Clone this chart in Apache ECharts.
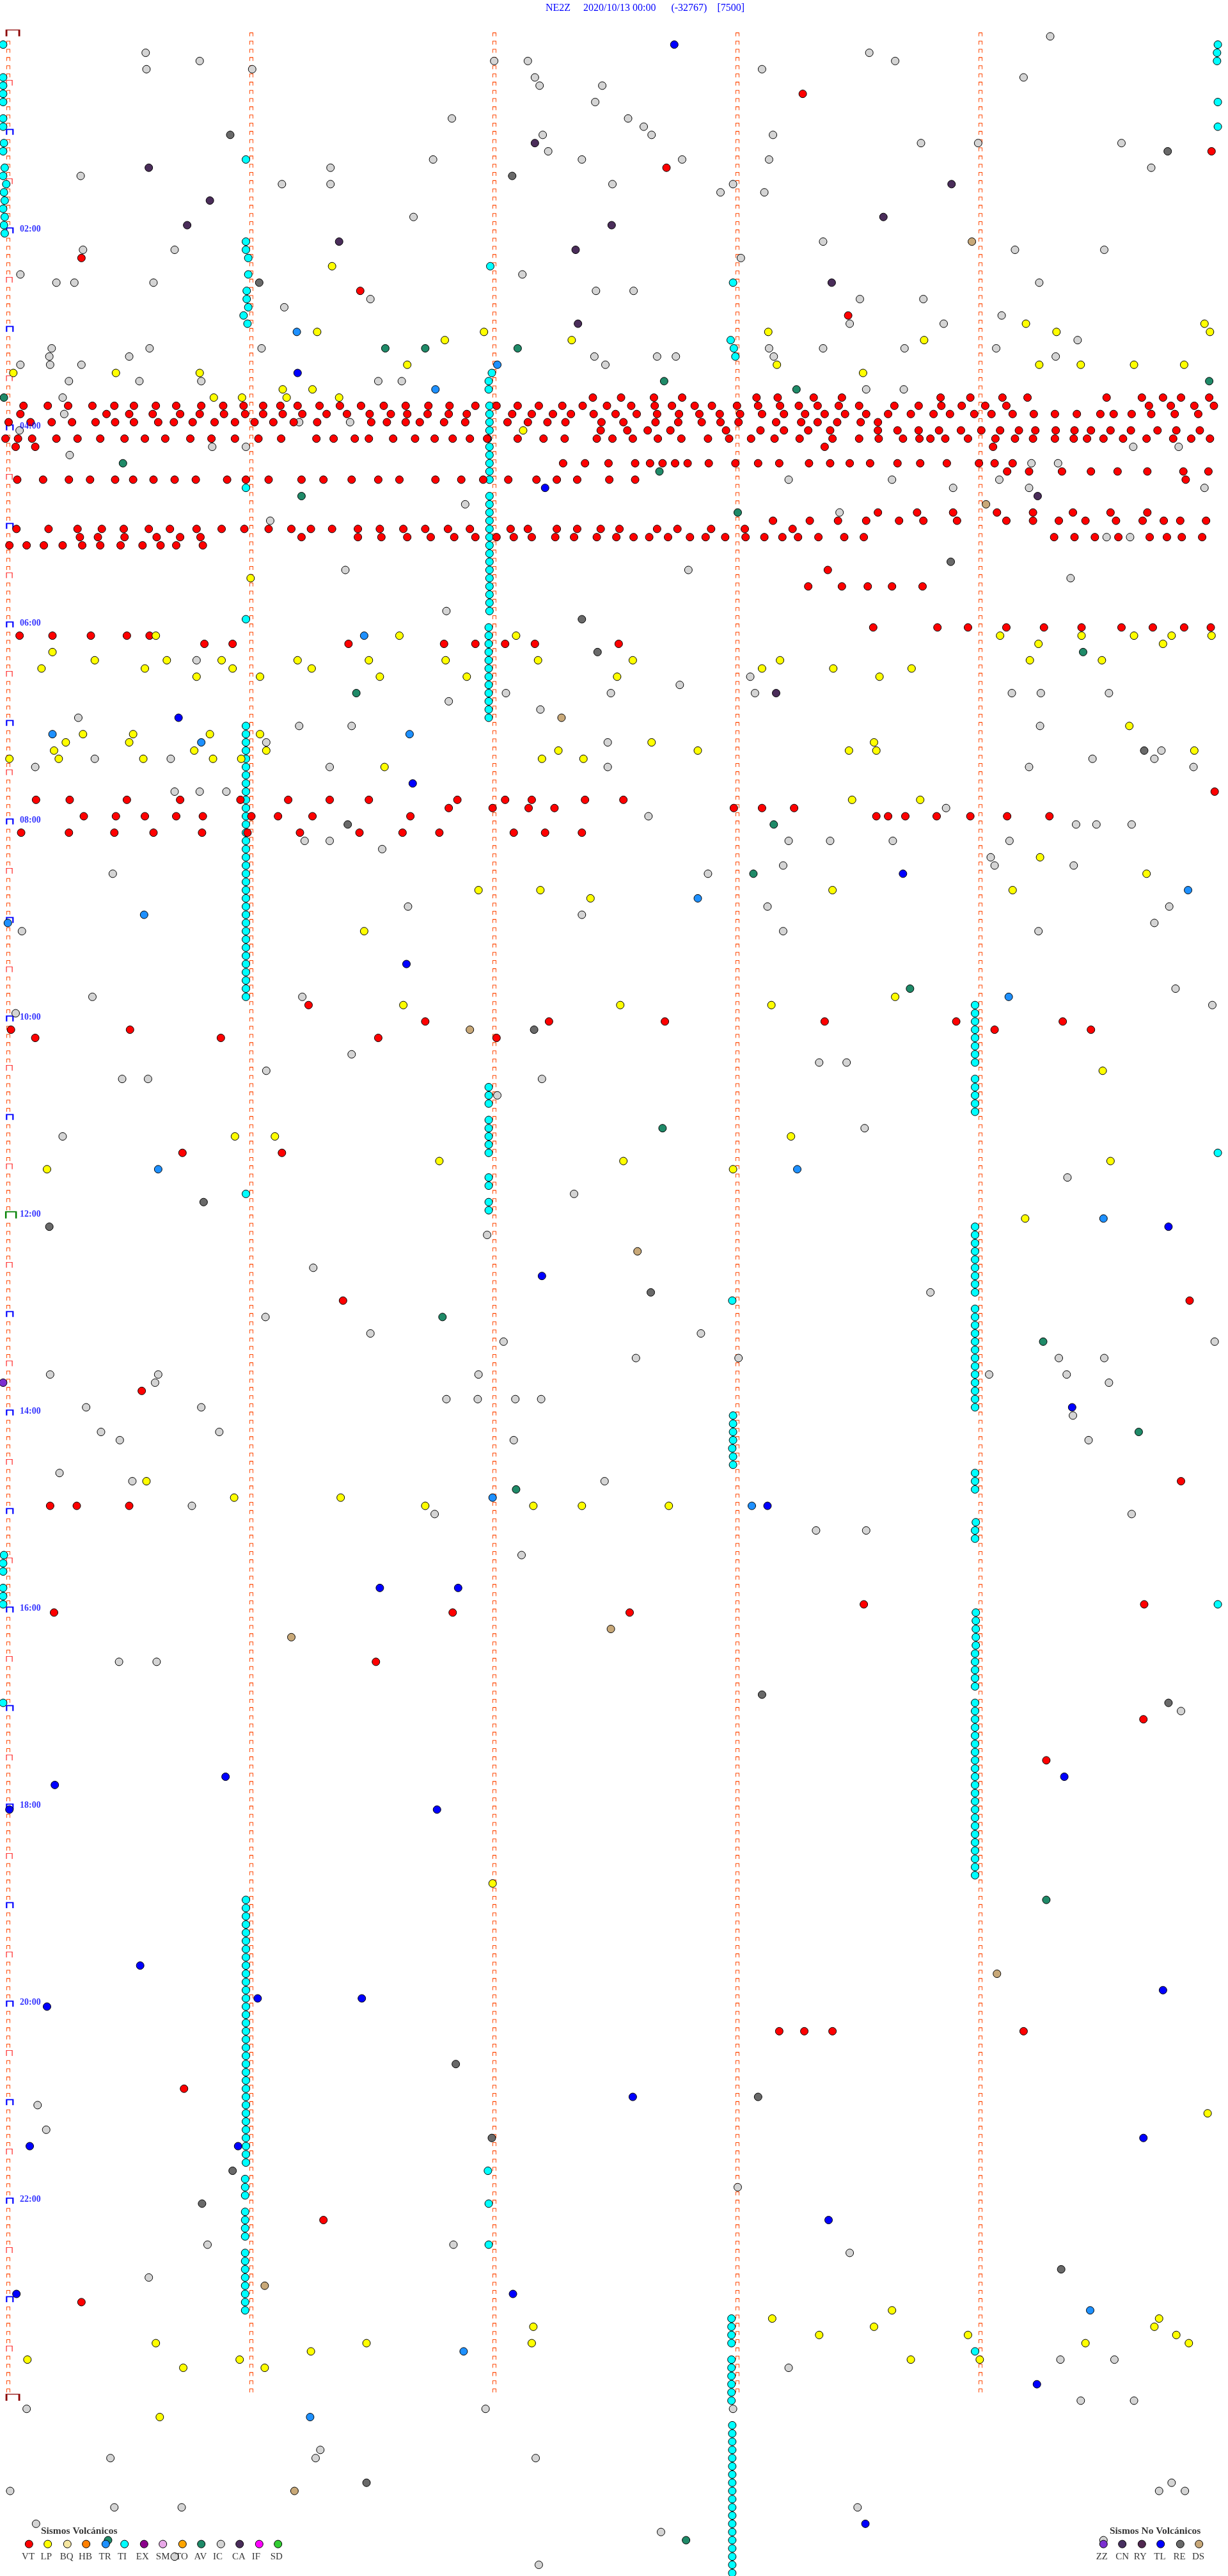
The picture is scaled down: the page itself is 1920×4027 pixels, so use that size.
<!DOCTYPE html>
<html><head><meta charset="utf-8">
<script src="https://cdn.jsdelivr.net/npm/echarts@6/dist/echarts.min.js"></script>
<style>html,body{margin:0;padding:0;background:#fff}#c{width:1920px;height:4027px}</style></head>
<body><div id="c"></div>
<script>
// Each line: [row, x, x, ...]  row = 5-minute trace line, x = position along the line
const VT=[[7,1025],[14,1547],[16,851],[27,104],[31,460],[34,1083],
[44,757,793,835,871,966,993,1039,1075,1201,1239,1280,1312,1413,1458,1485,1508,1544],
[45,30,61,87,118,146,171,199,225,257,285,311,336,358,380,408,434,461,490,518,547,574,607,634,661,688,718,744,775,806,836,858,887,909,941,968,996,1020,1044,1071,1097,1142,1173,1202,1228,1258,1285,1467,1495,1525,1550],
[46,26,136,165,195,230,255,286,313,336,361,386,417,443,472,499,520,546,573,596,654,679,706,729,758,786,813,839,867,893,919,945,973,1001,1028,1053,1079,1106,1134,1163,1192,1213,1244,1266,1293,1320,1347,1375,1405,1422,1445,1470,1500,1530],
[47,11,39,66,92,122,147,171,202,222,246,274,300,325,349,375,405,474,494,518,536,567,594,648,674,699,722,768,796,837,866,896,920,943,991,1023,1044,1069,1099,1121],
[48,767,801,827,856,927,971,1001,1032,1060,1121,1146,1173,1199,1227,1253,1277,1301,1322,1348,1372,1393,1418,1444,1478,1502,1532],
[49,7,23,41,72,99,128,159,185,211,243,270,300,330,359,404,426,453,471,502,530,555,578,600,622,661,694,721,762,782,808,840,870,904,931,959,989,1021,1063,1097,1122,1153,1174,1188,1207,1236,1271,1296,1319,1347,1371,1388,1409,1434,1464,1498,1521,1545],
[50,20,45,1053,1268],
[52,719,747,777,811,830,846,862,878,905,939,968,995,1033,1060,1085,1111,1146,1175,1209,1250,1270,1293],
[53,1286,1314,1356,1393,1427,1465,1511,1543],
[54,22,55,88,115,147,170,196,223,250,290,314,343,385,413,449,483,510,556,589,617,649,685,711,737,778,811,1514],
[58,1121,1171,1217,1273,1319,1370,1418,1465],
[59,987,1034,1070,1106,1148,1179,1222,1285,1319,1352,1386,1425,1459,1486,1507,1540],
[60,21,62,99,130,158,190,217,251,283,312,343,372,397,424,457,485,515,543,572,600,652,674,711,737,767,791,839,865,908,951,1012],
[61,102,125,159,200,230,256,385,457,487,520,550,580,607,634,656,679,709,733,762,787,809,829,853,881,901,926,952,976,999,1019,1045,1078,1103,1346,1372,1398,1428,1468,1490,1509,1535],
[62,12,34,56,80,105,128,154,182,205,225,259],
[65,1057],[67,1032,1075,1108,1139,1178],
[72,1115,1197,1236,1285,1333,1381,1432,1472,1512,1546],
[73,25,67,116,162,191],[74,261,297,445,567,607,645,683,790],
[92,1551],
[93,46,89,162,230,307,368,421,471,584,645,679,747,796],
[94,573,629,675,708,937,973,1014],
[95,107,148,185,225,259,321,355,399,524,1119,1134,1156,1196,1239,1286,1340],
[97,27,88,146,196,258,316,383,459,514,561,656,696,743],
[118,394],[120,543,701,849,1053,1221,1357],[121,14,166,1270,1393],[122,45,282,483,634],
[136,233,360],[154,438,1519],[165,181],[176,1508],[179,64,98,165],[191,1103,1461],[192,69,578,804],
[198,480],[205,1460],[210,1336],[243,995,1027,1063,1307],[250,235],[266,413],[276,104]];
const LP=[[28,424],[35,1310,1538],[36,405,618,981,1349,1545],[37,568,730,1180],[40,520,992,1327,1380,1448,1512],[41,17,148,255,1102],[43,361,399],[44,273,309,366,433],[48,668],[66,320],
[73,199,510,659,1277,1381,1448,1496,1547],[74,1326,1485],[75,67],[76,121,213,283,380,471,569,687,808,996,1315,1407],[77,53,185,297,398,973,1064,1164],[78,251,332,485,596,788,1123],
[84,1442],[85,106,170,268,332],[86,84,165,832,1116],[87,69,248,340,713,891,1084,1119,1525],[88,12,75,183,272,308,692,745],[89,491],[93,1088,1175],[100,1328],[102,1464],[104,611,690,1063,1293],[105,754],[109,465],[117,1143],[118,515,792,985],
[126,1408],[134,300,351,1010],[137,561,796,1418],[138,60,936],[144,1309],[176,187],[178,299,435],[179,543,681,743,854],[225,629],[253,1542],
[277,1139],[278,986,1480],[279,681,1116,1474],[280,1046,1236,1502],[281,199,468,679,1386,1518],[282,397],[283,35,306,1163,1251],[284,234,338],[290,204]];
const TR=[[36,379],[40,635],[43,556],[73,465],[85,67,523],[86,257],[104,1517],[105,891],[107,184],[108,10],[117,1288],[138,202,1018],[144,1409],[178,629],[179,960],[277,1392],[282,592],[290,396]];
const AV=[[38,492,543,661],[42,848,1544],[43,1017],[44,5],[52,157],[53,842],[56,385],[58,942],[75,1383],[80,455],[96,988],[102,962],[116,1162],[133,846],[156,565],[159,1332],[170,1454],[177,659],[227,1336],[305,138,876]];
const IC=[[0,1341],[2,186,1110],[3,255,631,674,1143],[4,187,322,973],[5,683,1307],[6,689,769],[8,760],[10,577,802],[11,822],[12,693,832,987],[13,1176,1249,1432],[14,700],[15,553,743,871,982],[16,422,1470],[17,103],[18,360,422,782,936],[19,920,976],[22,528],[25,1051],[26,106,223,1296,1410],[27,946],[29,26,667],[30,72,95,196,1327],[31,761,809],[32,473,1098,1179],[33,363],[34,1279],[35,1085,1205],[37,1376],
[38,66,191,334,982,1051,1155,1272],[39,63,165,759,839,863,988,1348],[40,26,64,104,773],[42,88,178,257,483,513],[43,1106,1154],[44,80],[46,82],[47,382,447],[48,25],[50,271,314,1447,1505],[51,89],[52,1317,1351],[54,1007,1139,1276],[55,1217,1314,1538],[57,594],[58,1072],[59,345],[61,1413,1443],[65,441,879],[66,1367],[70,570],
[76,251],[78,958],[79,868],[80,646,780,964,1292,1329,1416],[81,573],[82,690],[83,100],[84,382,449,1328],[86,340,776],[87,1483],[88,121,218,1395,1474],[89,45,421,776,1314,1524],[92,223,255,289],[94,1208],[95,828],[96,1374,1400,1445],[98,389,421,1007,1060,1140,1289],[99,488],[100,1265],[101,1000,1270,1371],[102,144,904],[106,521,980,1493],[107,743],[108,1474],[109,28,1000,1326],[116,1501],[117,118,386],[118,1548],[119,20],
[124,449],[125,1046,1081],[126,340],[127,156,189,692],[129,635],[133,1104],[134,80],[139,1363],[141,733],[146,622],[150,400],[153,1188],[156,339],[158,473,895],[159,643,1551],[161,812,943,1352,1410],[163,64,202,611,1263,1362],[164,198,1416],[166,570,610,658,691],[167,110,257],[168,1370],[170,129,280],[171,153,656,1390],[175,76],[176,169,772],[179,245],[180,555,1445],[182,1042,1106],[185,666],[198,152,200],[204,1508],
[252,48],[255,59],[262,942],[269,265,579],[270,1085],[273,190],[283,1354,1423],[284,1007],[288,1380,1448],[289,34,620,936],[294,409],[295,141,403,684],[298,1496],[299,13,1480,1513],[301,146,232,1095],[303,46],[304,844],[305,1409],[307,223],[308,688]];
const CA=[[13,683],[16,190],[18,1215],[20,268],[22,1128],[23,239,781],[25,433],[26,735],[30,1062],[35,738],[56,1325],[80,991]];
const RE=[[12,294],[14,1491],[17,654],[30,331],[64,1214],[71,743],[75,763],[87,1461],[96,444],[121,682],[142,260],[145,63],[153,831],[202,973],[203,1492],[247,582],[251,968],[256,628],[260,297],[264,258],[272,1355],[298,468]];
const DS=[[25,1241],[57,1259],[83,717],[121,600],[148,814],[194,780],[195,372],[236,1273],[274,338],[299,376]];
const TL=[[1,861],[41,380],[55,696],[83,228],[91,527],[102,1153],[113,519],[145,1492],[151,692],[167,1369],[179,980],[189,485,585],[212,288,1359],[213,70],[216,12,558],[235,179],[238,1485],[239,329,462],[240,60],[251,808],[256,1460],[257,38,304],[266,1058],[275,21,655],[286,1324],[303,1105]];
const ZZ=[[164,4]];
// TI: [x, row, row, ...]
const TI=[[4,1,5,6,7,8,10,11,14,17,21],[5,13,19,23],[6,16,20,22,24],[8,18],[1555,1,8,11,136,191],[1554,2,3],
[314,15,25,26,55,71,141],[317,27,29,33],[626,28],[936,30],[315,31,32],[311,34],[316,35],[933,37],[937,38],[939,39],[628,41],
[624,42,43,72,73,74,75,76,77,78,79,80,81,82,83,128,129,130,132,133,134,135,136,139,140,142,143,264,269],
[625,45,46,47,48,50,51,52,53,54,56,57,58,59,60,61,62,63,64,65,66,67,68,69,70],[623,49,260],
[314,84,85,86,87,88,89,90,91,92,93,94,95,96,97,98,99,100,101,102,103,104,105,106,107,108,109,110,111,112,113,114,115,116,117],
[1245,118,119,120,121,122,123,124,125,127,128,129,130,131,145,146,147,148,149,150,151,152,153,155,156,157,158,159,160,161,162,163,164,165,166,167,175,176,177,182,183,197,198,199,200,201,203,204,205,206,207,208,209,210,211,212,213,214,215,216,217,218,219,220,221,222,223,224,282],
[935,154,291,292,293,294,295,296,297,298,299,300,301,302,303,304,305,306,307,308,309],[936,168,169,170,171,173,174],[935,172],
[1246,181,192,193,194,195,196],[5,185],[4,186,187,189,190,191,203],
[314,227,228,229,230,231,232,233,234,235,236,237,238,239,240,241,242,243,244,245,246,247,248,249,250,251,252,253,254,255,256,257,258,259],
[313,261,262,263,265,266,267,268,270,271,272,273,274,275,276,277],[934,278,279,280,281,283,284,285,286,287,288]];

const hourLabels=['02:00','04:00','06:00','08:00','10:00','12:00','14:00','16:00','18:00','20:00','22:00'];
const hourLabelRows=[24,48,72,96,120,144,168,192,216,240,264];
const columnTicks=[10.62,320.95,631.28,941.62,1251.95];
const legendV=['VT','LP','BQ','HB','TR','TI','EX','SM','TO','AV','IC','CA','IF','SD'];
const legendVX=[37,61,86,110,135,159,184,208,233,257,282,306,331,355];
const legendVLabelX=[36,59,85,109,134,156,182,208,232,256,278,305,327,353];
const legendN=['ZZ','CN','RY','TL','RE','DS'];
const legendNX=[1409,1433,1458,1482,1507,1531];
const legendNLabelX=[1407,1433,1456,1481,1506,1530];
const colors={VT:'#ff0000',LP:'#ffff00',BQ:'#f5e6a0',HB:'#ff8000',TR:'#1e90ff',TI:'#00ffff',EX:'#8b008b',SM:'#e8a8e8',TO:'#ffa500',AV:'#1f8a68',IC:'#d4d4d4',CA:'#4a2d5a',IF:'#ff00ff',SD:'#32cd32',ZZ:'#7b2fd0',CN:'#483060',RY:'#502850',TL:'#0000ff',RE:'#696969',DS:'#c8a878'};

const SERIF='"Liberation Serif","Times New Roman",serif';
const byRow=a=>a.flatMap(r=>r.slice(1).map(x=>[x,r[0]]));
const byCol=a=>a.flatMap(r=>r.slice(1).map(y=>[r[0],y]));
const PATH='path://M0 10V0H10V10';
const rows=[];for(let r=0;r<288;r++)rows.push(r);
const tickData=columnTicks.flatMap((x,i)=>rows.filter(r=>i>0||r%6!==0).map(r=>[x,r]));
const tickSeries=(data,w,h,color,lw)=>({type:'scatter',silent:true,symbol:PATH,symbolSize:[w,h],symbolOffset:[0,-h/2],data,
  itemStyle:{color:'transparent',borderColor:color,borderWidth:lw,opacity:1},z:1,animation:false});
const marks=(name,data)=>({name,type:'scatter',silent:true,symbol:'circle',symbolSize:12,data,
  itemStyle:{color:colors[name],borderColor:'#000',borderWidth:1,opacity:1},z:2,animation:false});
const textSeries=(data,labels,font,color,offset)=>({type:'scatter',silent:true,symbolSize:0,z:5,animation:false,
  data:data.map((d,i)=>({value:d,label:{formatter:labels[i]}})),
  label:{show:true,position:'inside',color,offset:offset||[0,0],...font}});
const LEGEND_ROW=305.47;
const legendSeries=(names,xs)=>({type:'scatter',silent:true,symbol:'circle',symbolSize:12,z:4,animation:false,
  data:names.map((n,i)=>({value:[xs[i],LEGEND_ROW],itemStyle:{color:colors[n],borderColor:'#000',borderWidth:1,opacity:1}}))});

const chart=echarts.init(document.getElementById('c'),null,{renderer:'canvas'});
chart.setOption({animation:false,backgroundColor:'#fff',
 title:{text:'NE2Z     2020/10/13 00:00      (-32767)    [7500]',left:853,top:5,padding:0,textStyle:{color:'#0000ff',fontFamily:SERIF,fontWeight:'normal',fontSize:16}},
 grid:{left:0,right:0,top:0,bottom:0},
 xAxis:{type:'value',min:0,max:1568,show:false},
 yAxis:{type:'value',inverse:true,min:-4.431,max:309.36,show:false},
 series:[
  tickSeries(tickData,5,5.5,'#ff4500',1),
  tickSeries(rows.filter(r=>r%12===6).map(r=>[11.9,r]),9,8.5,'#ff0000',1),
  tickSeries(rows.filter(r=>r%12===0&&r!==0&&r!==144).map(r=>[12.5,r]),10,8.5,'#0000ff',2),
  tickSeries([[14,144]],16,10.5,'#008000',2),
  tickSeries([[16.4,0],[16.4,288]],20,10,'#8b0000',2),
  marks('IC',byRow(IC)),marks('TI',byCol(TI)),marks('VT',byRow(VT)),marks('LP',byRow(LP)),marks('TR',byRow(TR)),marks('AV',byRow(AV)),
  marks('CA',byRow(CA)),marks('RE',byRow(RE)),marks('DS',byRow(DS)),marks('TL',byRow(TL)),marks('ZZ',byRow(ZZ)),
  legendSeries(legendV,legendVX),legendSeries(legendN,legendNX),
  textSeries(hourLabelRows.map(r=>[38.7,r]),hourLabels,{fontFamily:SERIF,fontWeight:'bold',fontSize:14},'#0000ff',[0,-6]),
  textSeries(legendVLabelX.map(x=>[x,LEGEND_ROW]),legendV,{fontFamily:SERIF,fontSize:15},'#000',[0,20]),
  textSeries(legendNLabelX.map(x=>[x,LEGEND_ROW]),legendN,{fontFamily:SERIF,fontSize:15},'#000',[0,20]),
  textSeries([[101,LEGEND_ROW],[1475,LEGEND_ROW]],['Sismos Volcánicos','Sismos No Volcánicos'],{fontFamily:SERIF,fontWeight:'bold',fontSize:15.5},'#000',[0,-20])
 ]});
</script></body></html>
